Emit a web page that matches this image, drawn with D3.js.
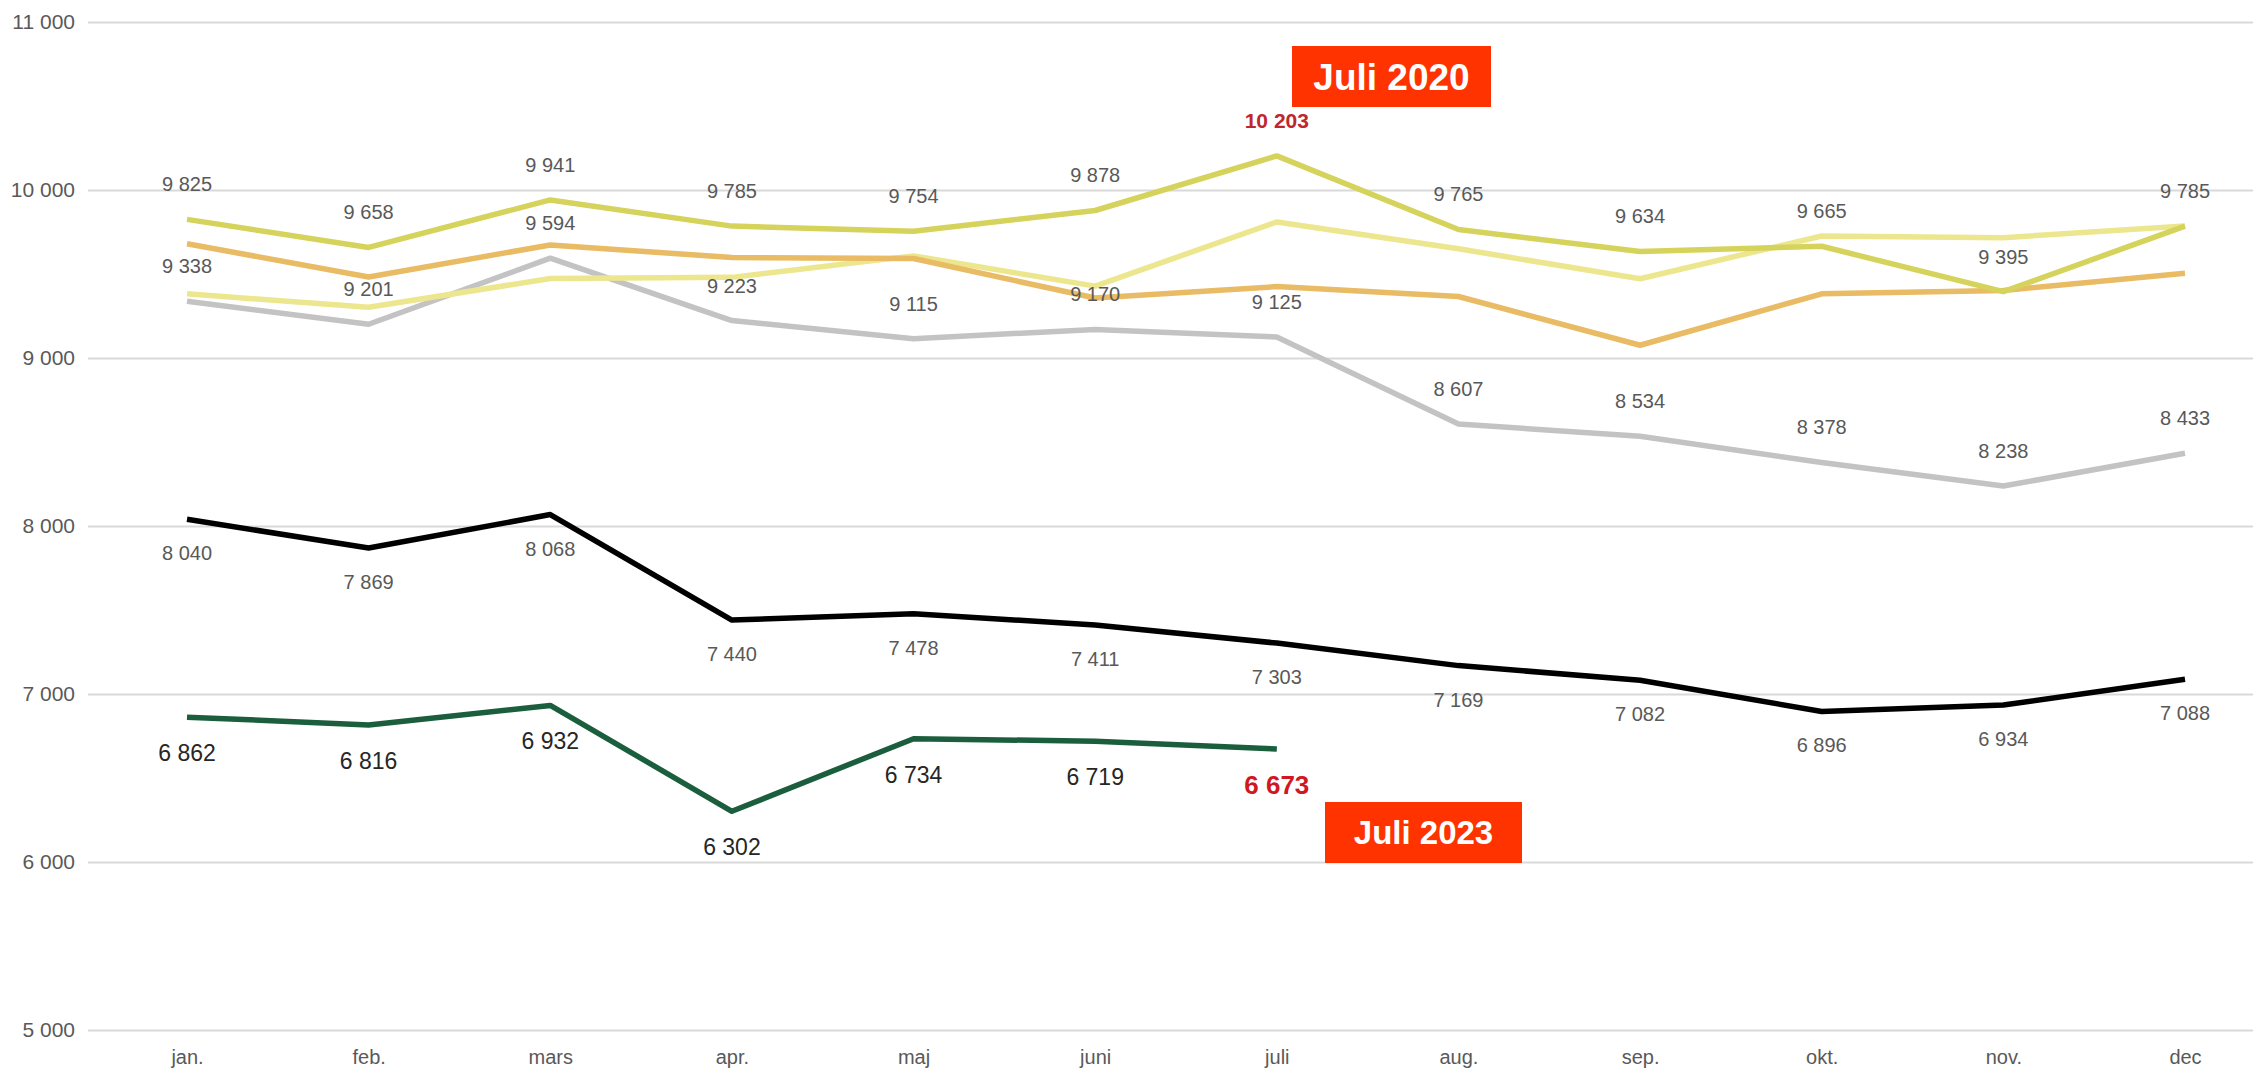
<!DOCTYPE html>
<html>
<head>
<meta charset="utf-8">
<script src="https://cdn.jsdelivr.net/npm/d3@7"></script>
<style>
  html, body { margin: 0; padding: 0; background: #fff; }
  svg { display: block; font-family: "Liberation Sans", Arial, sans-serif; }
</style>
</head>
<body>
<div id="chart"></div>
<script>
// Monthly values, several years.
const months = ['jan.', 'feb.', 'mars', 'apr.', 'maj', 'juni', 'juli', 'aug.', 'sep.', 'okt.', 'nov.', 'dec'];
const yTicks = [5000, 6000, 7000, 8000, 9000, 10000, 11000];

// labelled series
const olive = [9825, 9658, 9941, 9785, 9754, 9878, 10203, 9765, 9634, 9665, 9395, 9785];
const grey = [9338, 9201, 9594, 9223, 9115, 9170, 9125, 8607, 8534, 8378, 8238, 8433];
const black = [8040, 7869, 8068, 7440, 7478, 7411, 7303, 7169, 7082, 6896, 6934, 7088];
const green = [6862, 6816, 6932, 6302, 6734, 6719, 6673];
// unlabelled series (estimated from the line positions)
const orange = [9680, 9482, 9673, 9598, 9592, 9357, 9425, 9366, 9076, 9382, 9402, 9505];
const paleYellow = [9382, 9302, 9473, 9480, 9608, 9428, 9810, 9650, 9472, 9726, 9716, 9786];

const width = 2253, height = 1070;

const fmt = d3.formatLocale({ decimal: ',', thousands: '\u00a0', grouping: [3], currency: ['', ''] }).format(',d');

const svg = d3.select('#chart').append('svg')
    .attr('width', width)
    .attr('height', height);

const x = d3.scalePoint().domain(months).range([187, 2185]);
const y = d3.scaleLinear().domain([5000, 11000]).range([1030, 22]);

// gridlines + y labels
const yAxis = d3.axisLeft(y)
    .tickValues(yTicks)
    .tickSize(-(width - 88))
    .tickPadding(13)
    .tickFormat(fmt);

const gy = svg.append('g')
    .attr('transform', 'translate(88,0)')
    .call(yAxis);
gy.select('.domain').remove();
gy.selectAll('.tick line').attr('stroke', '#d9d9d9').attr('stroke-width', 2);
gy.selectAll('.tick text')
    .attr('fill', '#595959')
    .attr('font-size', 21)
    .attr('font-family', '"Liberation Sans", Arial, sans-serif');

// x labels
const xAxis = d3.axisBottom(x).tickSize(0).tickPadding(0);
const gx = svg.append('g')
    .attr('transform', 'translate(0,1050)')
    .call(xAxis);
gx.select('.domain').remove();
gx.selectAll('.tick text')
    .attr('fill', '#595959')
    .attr('font-size', 20)
    .attr('font-family', '"Liberation Sans", Arial, sans-serif');

const line = d3.line()
    .x((d, i) => x(months[i]))
    .y(d => y(d));

const series = [
    { values: grey, color: '#c3c3c3', labels: true, dy: -35 },
    { values: paleYellow, color: '#ece78e', labels: false },
    { values: orange, color: '#e8bb64', labels: false },
    { values: olive, color: '#d5d35c', labels: true, dy: -35 },
    { values: black, color: '#000000', labels: true, dy: 34 },
    { values: green, color: '#1b5e3d', labels: true, dy: 36, big: true }
];

svg.append('g')
    .selectAll('path')
    .data(series)
    .join('path')
    .attr('fill', 'none')
    .attr('stroke', d => d.color)
    .attr('stroke-width', 5.5)
    .attr('stroke-linejoin', 'round')
    .attr('d', d => line(d.values));

// value labels
series.filter(s => s.labels).forEach(s => {
    svg.append('g')
        .selectAll('text')
        .data(s.values)
        .join('text')
        .attr('x', (d, i) => x(months[i]))
        .attr('y', d => y(d) + s.dy)
        .attr('dy', '0.35em')
        .attr('text-anchor', 'middle')
        .attr('font-size', (d, i) => {
            if (i === 6 && s.big) return 26;
            if (i === 6 && s.values === olive) return 21;
            if (s.big) return 23;
            return 20;
        })
        .attr('font-weight', (d, i) => i === 6 && (s.big || s.values === olive) ? 'bold' : 'normal')
        .attr('fill', (d, i) => {
            if (i === 6 && s.big) return '#d0181f';
            if (i === 6 && s.values === olive) return '#c0272d';
            return s.big ? '#262626' : '#595959';
        })
        .text(d => fmt(d));
});

// "Juli" call-outs
const notes = [
    { text: 'Juli 2020', x0: 1292, x1: 1491, y0: 46, y1: 107, size: 37 },
    { text: 'Juli 2023', x0: 1325, x1: 1522, y0: 802, y1: 863, size: 33 }
];
const ng = svg.append('g')
    .selectAll('g')
    .data(notes)
    .join('g');
ng.append('rect')
    .attr('x', d => d.x0)
    .attr('y', d => d.y0)
    .attr('width', d => d.x1 - d.x0)
    .attr('height', d => d.y1 - d.y0)
    .attr('fill', '#ff3300');
ng.append('text')
    .attr('x', d => (d.x0 + d.x1) / 2)
    .attr('y', d => (d.y0 + d.y1) / 2)
    .attr('dy', '0.36em')
    .attr('text-anchor', 'middle')
    .attr('font-size', d => d.size)
    .attr('font-weight', 'bold')
    .attr('fill', '#fff')
    .text(d => d.text);
</script>
</body>
</html>
